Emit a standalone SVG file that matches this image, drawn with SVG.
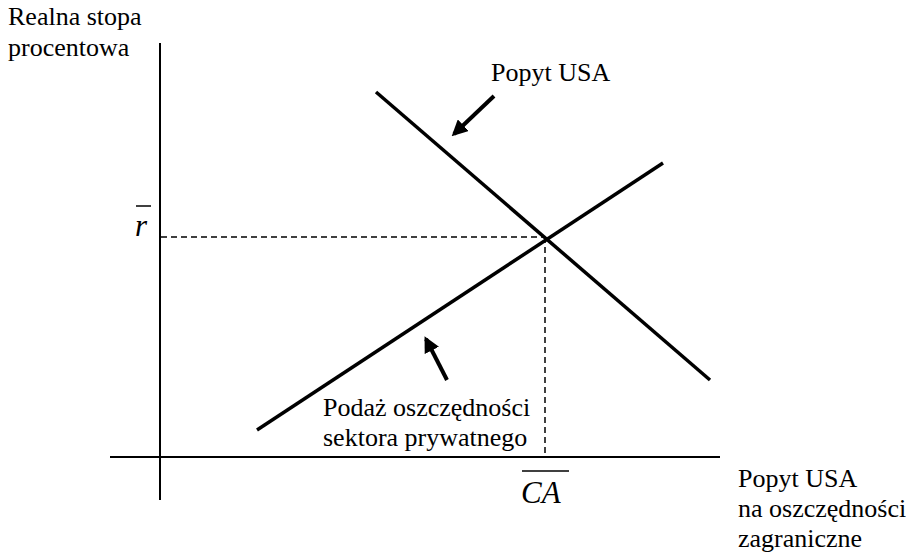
<svg xmlns="http://www.w3.org/2000/svg" width="906" height="556" viewBox="0 0 906 556">
<defs>
<style>
.t{font-family:"Liberation Serif","Times New Roman",serif;font-size:26px;fill:#000}
.m{font-family:"Liberation Serif","Times New Roman",serif;font-size:31px;font-style:italic;fill:#000}
.ax{stroke:#000;stroke-width:2;fill:none}
.cv{stroke:#000;stroke-width:3.5;fill:none}
.ds{stroke:#000;stroke-width:1.5;stroke-dasharray:6,4;fill:none}
.ar{stroke:#000;stroke-width:4;fill:none}
</style>
<marker id="ah" markerWidth="4" markerHeight="4" refX="3.2" refY="2" orient="auto" markerUnits="strokeWidth">
<path d="M0,0 L4,2 L0,4 Z" fill="#000"/>
</marker>
</defs>
<g id="axes">
<line class="ax" x1="160" y1="43" x2="160" y2="500"/>
<line class="ax" x1="110" y1="457" x2="720" y2="457"/>
</g>
<g id="connectors">
<line class="cv" x1="376" y1="92" x2="710" y2="380"/>
<line class="cv" x1="257" y1="430" x2="663" y2="163"/>
<line class="ds" x1="161" y1="237" x2="545" y2="237"/>
<line class="ds" x1="545" y1="237" x2="545" y2="456"/>
<line class="ar" x1="494" y1="96" x2="454" y2="134" marker-end="url(#ah)"/>
<line class="ar" x1="447" y1="380" x2="426" y2="339" marker-end="url(#ah)"/>
</g>
<g id="label-y">
<text class="t" x="8" y="25">Realna stopa</text>
<text class="t" x="8" y="56">procentowa</text>
</g>
<g id="label-demand">
<text class="t" x="491" y="81">Popyt USA</text>
</g>
<g id="label-supply">
<text class="t" x="323" y="416">Podaż oszczędności</text>
<text class="t" x="323" y="446">sektora prywatnego</text>
</g>
<g id="label-x">
<text class="t" x="738" y="487">Popyt USA</text>
<text class="t" x="738" y="517">na oszczędności</text>
<text class="t" x="738" y="547">zagraniczne</text>
</g>
<g id="label-r">
<line x1="136" y1="206" x2="151" y2="206" stroke="#000" stroke-width="1.5"/>
<text class="m" x="135" y="236">r</text>
</g>
<g id="label-ca">
<line x1="522" y1="471" x2="569" y2="471" stroke="#000" stroke-width="1.5"/>
<text class="m" x="521" y="503">CA</text>
</g>
</svg>
